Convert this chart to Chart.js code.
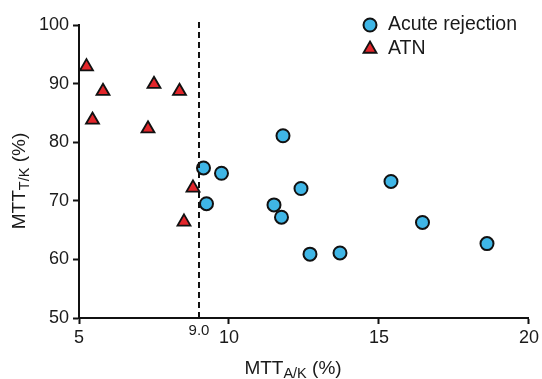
<!DOCTYPE html>
<html>
<head>
<meta charset="utf-8">
<script src="https://cdn.jsdelivr.net/npm/chart.js@4.4.0/dist/chart.umd.min.js"></script>
<style>
  body { margin: 0; background: #fff; }
  #wrap { width: 542px; height: 379px; }
</style>
</head>
<body>
<div id="wrap"><canvas id="mtt_chart" width="542" height="379"></canvas></div>
<script>
// values
const acuteX = [11.8, 9.15, 9.75, 9.25, 12.4, 11.5, 11.75, 12.7, 13.7, 15.4, 16.45, 18.6];
const acuteY = [81.1, 75.6, 74.7, 69.5, 72.1, 69.3, 67.2, 60.9, 61.1, 73.3, 66.3, 62.7];
const atnX = [5.25, 5.8, 5.45, 7.5, 8.35, 7.3, 8.8, 8.5];
const atnY = [92.9, 88.7, 83.8, 89.9, 88.7, 82.3, 72.2, 66.4];
const seriesNames = ['Acute rejection', 'ATN'];
const cutoff = 9.0;
const xTicks = [5, 10, 15, 20];
const yTicks = [50, 60, 70, 80, 90, 100];

const FONT = '"Liberation Sans", Arial, Helvetica, sans-serif';

function toPoints(xs, ys) {
  return xs.map(function (x, i) { return { x: x, y: ys[i] }; });
}

// draws "MTT" + subscript + " (%)" centred on 0,0 of current transform
function drawSubTitle(ctx, main, sub, tail) {
  ctx.font = '19px ' + FONT;
  const w1 = ctx.measureText(main).width;
  const w3 = ctx.measureText(tail).width;
  ctx.font = '14.5px ' + FONT;
  const w2 = ctx.measureText(sub).width;
  let x = -(w1 + w2 + w3) / 2;
  ctx.textBaseline = 'alphabetic';
  ctx.textAlign = 'left';
  ctx.font = '19px ' + FONT;
  ctx.fillText(main, x, 6);
  x += w1;
  ctx.font = '14.5px ' + FONT;
  ctx.fillText(sub, x, 10);
  x += w2;
  ctx.font = '19px ' + FONT;
  ctx.fillText(tail, x, 6);
}

const extras = {
  id: 'extras',
  afterDatasetsDraw(chart) {
    const ctx = chart.ctx;
    const xs = chart.scales.x;
    const px = xs.getPixelForValue(cutoff);
    // dashed cut-off line
    ctx.save();
    ctx.strokeStyle = '#111';
    ctx.lineWidth = 2;
    ctx.setLineDash([6, 4]);
    ctx.beginPath();
    ctx.moveTo(px, chart.chartArea.top - 3);
    ctx.lineTo(px, chart.chartArea.bottom);
    ctx.stroke();
    ctx.restore();
  },
  afterDraw(chart) {
    const ctx = chart.ctx;
    const xs = chart.scales.x;
    const area = chart.chartArea;
    ctx.save();
    ctx.fillStyle = '#1a1a1a';
    // 9.0 label
    ctx.font = '15px ' + FONT;
    ctx.textAlign = 'center';
    ctx.textBaseline = 'middle';
    ctx.fillText(cutoff.toFixed(1), xs.getPixelForValue(cutoff), area.bottom + 13);

    // axis titles
    ctx.save();
    ctx.translate(293, 368);
    drawSubTitle(ctx, 'MTT', 'A/K', ' (%)');
    ctx.restore();

    ctx.save();
    ctx.translate(19, 181);
    ctx.rotate(-Math.PI / 2);
    drawSubTitle(ctx, 'MTT', 'T/K', ' (%)');
    ctx.restore();

    // legend
    const lx = 370, ly = [25, 49];
    chart.data.datasets.forEach(function (ds, i) {
      ctx.fillStyle = ds.backgroundColor;
      ctx.strokeStyle = ds.borderColor;
      ctx.lineWidth = ds.borderWidth;
      Chart.helpers.drawPoint(ctx, {
        pointStyle: ds.pointStyle,
        radius: ds.pointRadius,
        borderWidth: ds.borderWidth,
        rotation: 0
      }, lx, ly[i]);
      ctx.fillStyle = '#1a1a1a';
      ctx.font = '19.5px ' + FONT;
      ctx.textAlign = 'left';
      ctx.textBaseline = 'middle';
      ctx.fillText(ds.label, lx + 18, ly[i]);
    });
    ctx.restore();
  }
};

const config = {
  type: 'scatter',
  data: {
    datasets: [{
      label: seriesNames[0],
      data: toPoints(acuteX, acuteY),
      pointStyle: 'circle',
      pointRadius: 6.5,
      pointHoverRadius: 6.5,
      backgroundColor: '#3fb6e6',
      borderColor: '#111',
      borderWidth: 2
    }, {
      label: seriesNames[1],
      data: toPoints(atnX, atnY),
      pointStyle: 'triangle',
      pointRadius: 7.5,
      pointHoverRadius: 7.5,
      backgroundColor: '#e2262b',
      borderColor: '#111',
      borderWidth: 1.8
    }]
  },
  options: {
    responsive: false,
    animation: false,
    layout: { padding: { top: 25, right: 12, left: 0, bottom: 0 } },
    plugins: {
      legend: { display: false },
      tooltip: { enabled: false }
    },
    scales: {
      x: {
        type: 'linear',
        min: 5,
        max: 20,
        afterBuildTicks: function (scale) {
          scale.ticks = xTicks.map(function (v) { return { value: v }; });
        },
        ticks: { color: '#1a1a1a', font: { family: FONT, size: 18 }, padding: 3, maxRotation: 0 },
        grid: { drawOnChartArea: false, drawTicks: true, tickLength: 6, tickWidth: 2, tickColor: '#111' },
        border: { display: true, color: '#111', width: 2 },
        afterFit: function (scale) { scale.height = 61; }
      },
      y: {
        type: 'linear',
        min: 50,
        max: 100,
        afterBuildTicks: function (scale) {
          scale.ticks = yTicks.map(function (v) { return { value: v }; });
        },
        ticks: { color: '#1a1a1a', font: { family: FONT, size: 18 }, padding: 4 },
        grid: { drawOnChartArea: false, drawTicks: true, tickLength: 6, tickWidth: 2, tickColor: '#111' },
        border: { display: true, color: '#111', width: 2 },
        afterFit: function (scale) { scale.width = 79; }
      }
    }
  },
  plugins: [extras]
};

const mtt_chart = new Chart(document.getElementById('mtt_chart'), config);
</script>
</body>
</html>
